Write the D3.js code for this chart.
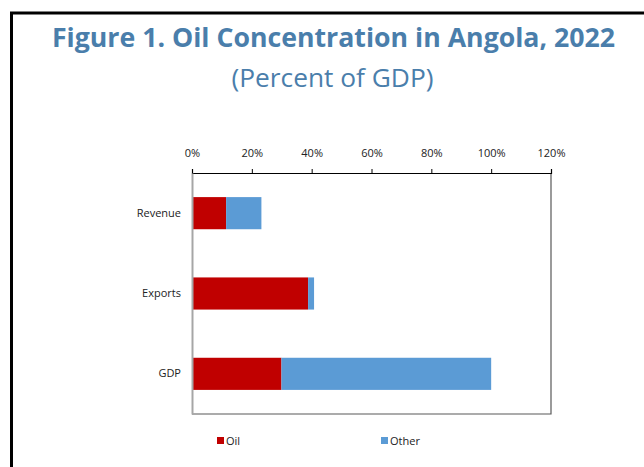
<!DOCTYPE html>
<html>
<head>
<meta charset="utf-8">
<script src="https://cdn.jsdelivr.net/npm/d3@7"></script>
<style>
  html, body { margin: 0; padding: 0; background: #fff; }
  svg { display: block; }
  text { font-family: "Open Sans", "Noto Sans", sans-serif; }
</style>
</head>
<body>
<script>
// Oil vs. non-oil share of revenue, exports and GDP (percent)
const categories = ["Revenue", "Exports", "GDP"];
const oilValues = [11.4, 38.8, 29.9];
const otherValues = [11.8, 2.0, 70.1];
const seriesNames = ["Oil", "Other"];
const seriesColors = ["#c00000", "#5b9bd5"];
const tickValues = [0, 20, 40, 60, 80, 100, 120];

const W = 644, H = 467;
const svg = d3.select("body").append("svg").attr("width", W).attr("height", H);

// outer frame
svg.append("rect").attr("x", 11.5).attr("y", 13).attr("width", 700).attr("height", 500)
  .attr("fill", "none").attr("stroke", "#000").attr("stroke-width", 3);

// titles
svg.append("text").attr("x", 333.5).attr("y", 47).attr("text-anchor", "middle")
  .attr("font-size", 26.7).attr("font-weight", 700).attr("fill", "#4a7eab")
  .text("Figure 1. Oil Concentration in Angola, 2022");
svg.append("text").attr("x", 332.5).attr("y", 87).attr("text-anchor", "middle")
  .attr("font-size", 26.3).attr("fill", "#4a7eab")
  .text("(Percent of GDP)");

const plot = { left: 192, right: 551, top: 173, bottom: 414 };

const x = d3.scaleLinear().domain([0, 120]).range([plot.left, plot.right]);
const y = d3.scaleBand().domain(categories).range([plot.top, plot.bottom]).paddingInner(0.6).paddingOuter(0.3);

// plot border (right & bottom)
svg.append("path")
  .attr("d", `M${plot.right},${plot.top}V${plot.bottom}H${plot.left}`)
  .attr("fill", "none").attr("stroke", "#595959").attr("stroke-width", 1.2);

// stacked data
const rows = categories.map((c, i) => ({ cat: c, Oil: oilValues[i], Other: otherValues[i] }));
const stacked = d3.stack().keys(seriesNames)(rows);

svg.append("g").selectAll("g").data(stacked).join("g")
  .attr("fill", (d, i) => seriesColors[i])
  .selectAll("rect").data(d => d).join("rect")
  .attr("x", d => x(d[0]))
  .attr("width", d => x(d[1]) - x(d[0]))
  .attr("y", d => y(d.data.cat))
  .attr("height", y.bandwidth());

// top axis
const xAxis = svg.append("g").attr("transform", `translate(0,${plot.top})`)
  .call(d3.axisTop(x).tickValues(tickValues).tickFormat(d => d + "%").tickSize(4).tickPadding(12));
xAxis.select(".domain").attr("stroke", "#000").attr("stroke-width", 1.2);
xAxis.selectAll(".tick line").attr("stroke", "#000");
xAxis.selectAll(".tick text").attr("font-size", 11).attr("fill", "#222")
  .attr("font-family", "'Open Sans', sans-serif");

// left axis (category labels)
const yAxis = svg.append("g").attr("transform", `translate(${plot.left},0)`)
  .call(d3.axisLeft(y).tickSize(0).tickPadding(11));
yAxis.select(".domain").attr("stroke", "#a6a6a6").attr("stroke-width", 2);
yAxis.selectAll(".tick text").attr("font-size", 11).attr("fill", "#222")
  .attr("font-family", "'Open Sans', sans-serif");

// legend
const legendX = [217, 381];
const legend = svg.append("g").selectAll("g").data(seriesNames).join("g")
  .attr("transform", (d, i) => `translate(${legendX[i]},437)`);
legend.append("rect").attr("width", 7).attr("height", 7).attr("fill", (d, i) => seriesColors[i]);
legend.append("text").attr("x", 9).attr("y", 7.5).attr("font-size", 11).attr("fill", "#222").text(d => d);
</script>
</body>
</html>
